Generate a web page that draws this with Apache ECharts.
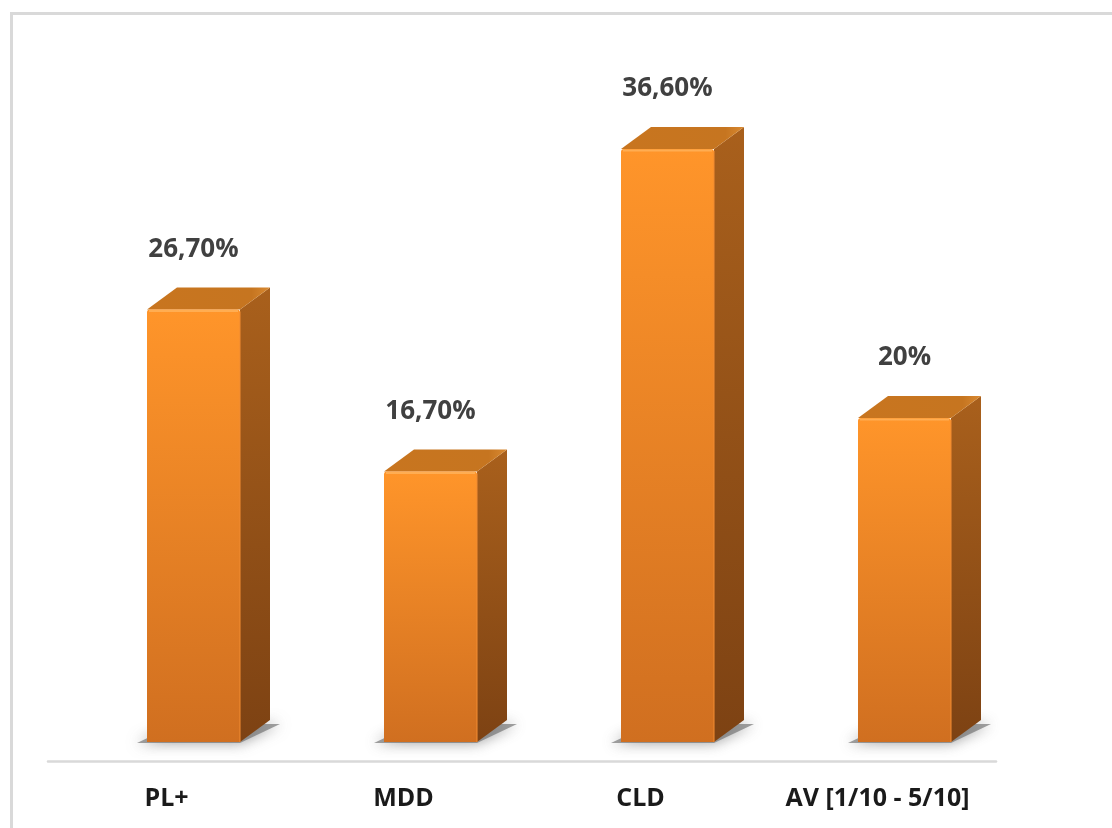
<!DOCTYPE html>
<html>
<head>
<meta charset="utf-8">
<style>
  html, body { margin: 0; padding: 0; background: #ffffff; }
  #chart { width: 1112px; height: 828px; }
</style>
<script src="https://cdn.jsdelivr.net/npm/echarts@6/dist/echarts.min.js"></script>
</head>
<body>
<div id="chart"></div>
<script>
// Categories and their percentages
const categories = ['PL+', 'MDD', 'CLD', 'AV [1/10 - 5/10]'];
const percentages = [26.7, 16.7, 36.6, 20];

// "26,70%" style, integers without decimals ("20%")
function formatPct(v) {
  return Number.isInteger(v) ? v + '%' : v.toFixed(2).replace('.', ',') + '%';
}

const chart = echarts.init(document.getElementById('chart'), null, { renderer: 'canvas' });

// 3D box geometry (pixels)
const FRONT_W = 93;   // width of the front face
const SHIFT = 27;     // front face shifted right of band centre
const DX = 30;        // depth offset to the right
const DY = 22;        // depth offset upwards
const LABEL_GAP = 60; // value label centre above the front top edge

function renderBox(params, api) {
  const idx = api.value(0);
  const val = api.value(1);
  const top = api.coord([idx, val]);
  const base = api.coord([idx, 0]);
  const cx = top[0] + SHIFT;
  const x0 = cx - FRONT_W / 2;
  const x1 = cx + FRONT_W / 2;
  const yt = top[1];
  const yb = base[1];

  const frontFill = new echarts.graphic.LinearGradient(0, 0, 0, 1, [
    { offset: 0, color: '#ff952a' },
    { offset: 1, color: '#d06f20' }
  ]);
  const sideFill = new echarts.graphic.LinearGradient(0, 0, 0, 1, [
    { offset: 0, color: '#a9601c' },
    { offset: 1, color: '#7d4213' }
  ]);
  const topFill = new echarts.graphic.LinearGradient(0, 0, 1, 0, [
    { offset: 0, color: '#c8751f' },
    { offset: 0.85, color: '#c67520' },
    { offset: 1, color: '#d98a32' }
  ]);

  return {
    type: 'group',
    children: [
      // soft floor shadow under the box
      {
        type: 'polygon',
        shape: { points: [[x0 - 10, yb + 1], [x1, yb + 1], [x1 + DX + 10, yb - DY + 4], [x0 + DX, yb - DY + 4]] },
        style: { fill: 'rgba(110,110,110,0.65)', shadowBlur: 14, shadowColor: 'rgba(90,90,90,0.9)' },
        silent: true
      },
      // right side face
      {
        type: 'polygon',
        shape: { points: [[x1, yt], [x1 + DX, yt - DY], [x1 + DX, yb - DY], [x1, yb]] },
        style: { fill: sideFill }
      },
      // top face
      {
        type: 'polygon',
        shape: { points: [[x0, yt], [x0 + DX, yt - DY], [x1 + DX, yt - DY], [x1, yt]] },
        style: { fill: topFill }
      },
      // front face
      {
        type: 'rect',
        shape: { x: x0, y: yt, width: FRONT_W, height: yb - yt, r: [3, 3, 0, 0] },
        style: { fill: frontFill }
      },
      // bevel highlight along the front top edge
      {
        type: 'line',
        shape: { x1: x0 + 2, y1: yt + 1.5, x2: x1 - 2, y2: yt + 1.5 },
        style: { stroke: 'rgba(255,190,110,0.6)', lineWidth: 2 }
      },
      // edge line between front and side
      {
        type: 'line',
        shape: { x1: x1, y1: yt + 2, x2: x1, y2: yb },
        style: { stroke: 'rgba(240,140,50,0.7)', lineWidth: 1.5 }
      },
      // value label
      {
        type: 'text',
        x: cx,
        y: yt - LABEL_GAP,
        style: {
          text: formatPct(val),
          fill: '#404040',
          font: 'bold 26px "Open Sans", "Liberation Sans", sans-serif',
          align: 'center',
          verticalAlign: 'middle'
        }
      }
    ]
  };
}

const option = {
  backgroundColor: '#ffffff',
  animation: false,
  grid: { left: 48, right: 116, top: 94, bottom: 86, containLabel: false },
  xAxis: {
    type: 'category',
    data: categories,
    offset: 19,
    axisLine: { show: true, onZero: false, lineStyle: { color: '#d9d9d9', width: 2.5 } },
    axisTick: { show: false },
    axisLabel: {
      interval: 0,
      margin: 25,
      color: '#1a1a1a',
      fontSize: 25,
      fontWeight: 'bold',
      fontFamily: '"Open Sans", "Liberation Sans", sans-serif'
    },
    splitLine: { show: false }
  },
  yAxis: {
    type: 'value',
    min: 0,
    max: 40,
    show: false
  },
  series: [{
    type: 'custom',
    renderItem: renderBox,
    data: percentages.map((v, i) => [i, v]),
    clip: false
  }],
  graphic: [{
    type: 'rect',
    shape: { x: 11.5, y: 13.5, width: 1200, height: 900 },
    style: { fill: 'none', stroke: '#d9d9d9', lineWidth: 3 },
    silent: true,
    z: -1
  }]
};

chart.setOption(option);
</script>
</body>
</html>
